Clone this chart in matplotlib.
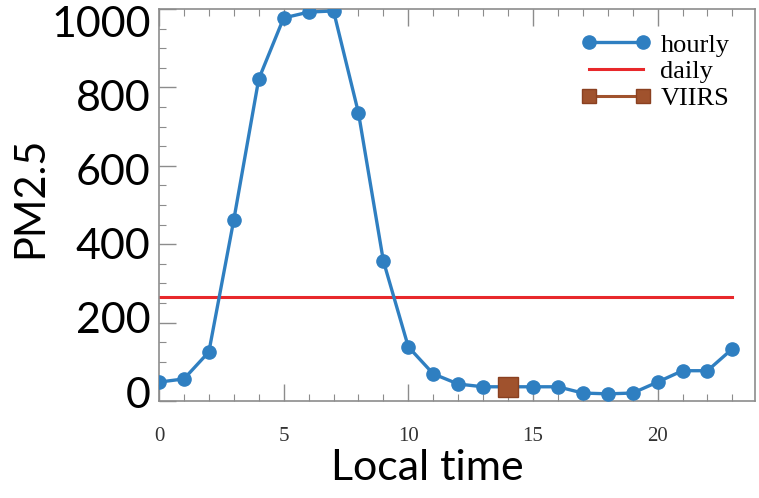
import matplotlib.pyplot as plt
from matplotlib.ticker import MultipleLocator

hours = list(range(24))
hourly = [48, 56, 125, 462, 821, 977, 992, 995, 735, 357, 138, 69,
          43, 36, 36, 36, 36, 20, 18, 20, 48, 77, 77, 133]
daily = 265
viirs_hour = [14]
viirs_val = [36]

y_ticks = [0, 200, 400, 600, 800, 1000]
x_ticks = [0, 5, 10, 15, 20]

blue = '#2f7fc1'
red = '#e8282b'
brown = '#a0522d'
frame = '#8c8c8c'

fig = plt.figure(figsize=(7.59, 4.98), dpi=100)
ax = fig.add_axes([0.2095, 0.195, 0.785, 0.787])

ax.plot(hours, hourly, '-o', color=blue, lw=2.4, ms=9.5, label='hourly', zorder=3)
ax.plot([hours[0], hours[-1]], [daily, daily], '-', color=red, lw=2.2, label='daily', zorder=2)
ax.plot(viirs_hour, viirs_val, '-s', color=brown, lw=2.2, ms=15, mec='#8a4020',
        label='VIIRS', zorder=4)

ax.set_xlim(0, 23.9)
ax.set_ylim(0, 1000)

ax.set_xticks(x_ticks)
ax.set_xticklabels([str(t) for t in x_ticks], family='Liberation Serif',
                   fontsize=15, color='#333333')
ax.xaxis.set_minor_locator(MultipleLocator(1))
ax.set_yticks(y_ticks)
ax.yaxis.set_minor_locator(MultipleLocator(50))

ax.tick_params(which='both', direction='in', top=True, right=True, color=frame)
ax.tick_params(which='major', length=12, width=1)
ax.tick_params(which='minor', length=5, width=0.8)
ax.tick_params(axis='x', which='major', pad=19)
ax.tick_params(axis='y', labelleft=False)
for s in ax.spines.values():
    s.set_color(frame)
    s.set_linewidth(1.2)

# big y labels sit as an overlay, spaced a bit tighter than the inner ticks
lab = ax.twinx()
lab.set_ylim(-24, 1035)
lab.yaxis.tick_left()
lab.set_yticks(y_ticks)
lab.set_yticklabels([str(t) for t in y_ticks], family='Lato', fontsize=31)
lab.tick_params(axis='y', length=0, pad=6)
for s in lab.spines.values():
    s.set_visible(False)

ax.set_ylabel('PM2.5', family='Lato', fontsize=30)
ax.yaxis.set_label_coords(-0.185, 0.52)
ax.set_xlabel('Local time', family='Lato', fontsize=31)
ax.xaxis.set_label_coords(0.451, -0.122)

leg = ax.legend(loc='upper right', bbox_to_anchor=(0.975, 0.965), frameon=False,
                numpoints=2, handlelength=2.65, handletextpad=0.35,
                labelspacing=0.12, borderaxespad=0,
                prop={'family': 'Liberation Serif', 'size': 19})
leg.legend_handles[2].set_markersize(10)

fig.savefig('out.png', dpi=100)
